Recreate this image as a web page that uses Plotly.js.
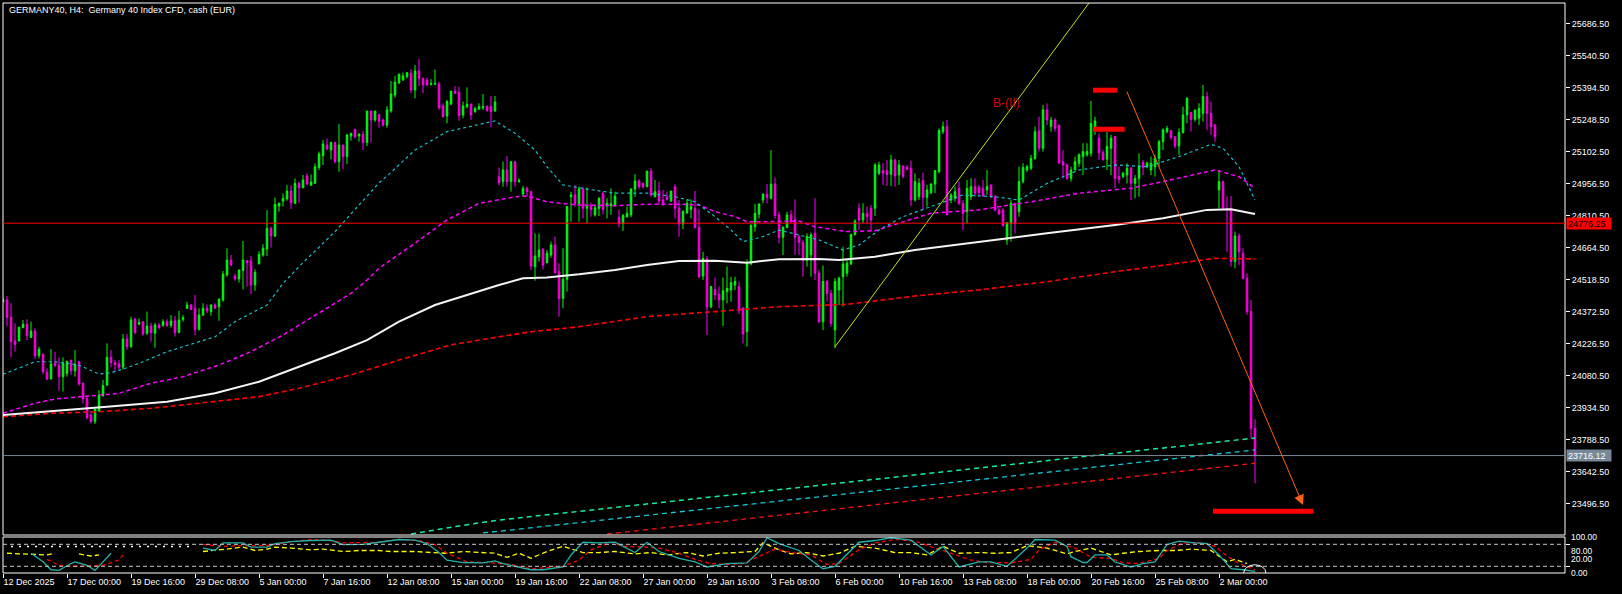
<!DOCTYPE html>
<html><head><meta charset="utf-8">
<script src="https://cdn.plot.ly/plotly-3.0.1.min.js"></script>
<style>html,body{margin:0;padding:0;background:#000;}#chart{width:1622px;height:594px;}</style>
</head><body><div id="chart"></div>
<script>
// ---------- DATA ----------
const chartTitle = "GERMANY40, H4:\u00a0 Germany 40 Index CFD, cash (EUR)";
const dateTickIdx = [0,16,32,48,64,80,96,112,128,144,160,176,192,208,224,240,256,272,288,304];
const dateTickText = ["12 Dec 2025","17 Dec 00:00","19 Dec 16:00","29 Dec 08:00","5 Jan 00:00","7 Jan 16:00","12 Jan 08:00","15 Jan 00:00","19 Jan 16:00","22 Jan 08:00","27 Jan 00:00","29 Jan 16:00","3 Feb 08:00","6 Feb 00:00","10 Feb 16:00","13 Feb 08:00","18 Feb 00:00","20 Feb 16:00","25 Feb 08:00","2 Mar 00:00"];
const priceTicks = [23496.5,23642.5,23788.5,23934.5,24080.5,24226.5,24372.5,24518.5,24664.5,24810.5,24956.5,25102.5,25248.5,25394.5,25540.5,25686.5];

const open = [24418,24426,24347,24239,24239,24300,24315,24255,24284,24172,
24179,24096,24065,24137,24129,24076,24091,24152,24103,24144,
24046,23977,23901,23871,23919,23989,24038,24164,24140,24134,
24119,24248,24213,24339,24315,24327,24274,24307,24274,24312,
24309,24327,24309,24331,24278,24338,24388,24403,24388,24292,
24357,24388,24373,24403,24395,24426,24540,24608,24535,24522,
24560,24605,24604,24494,24590,24631,24658,24753,24718,24855,
24877,24887,24923,24867,24958,24938,24992,24950,24958,25030,
25084,25133,25110,25144,25057,25133,25080,25174,25204,25174,
25182,25144,25288,25247,25270,25247,25224,25288,25361,25417,
25430,25445,25460,25384,25471,25437,25430,25410,25410,25411,
25312,25265,25320,25379,25373,25270,25308,25319,25285,25297,
25303,25308,25308,25288,24988,24966,25019,24966,25057,24966,
24909,24935,24920,24578,24623,24657,24596,24631,24677,24555,
24433,24520,24897,24905,24864,24932,24844,24855,24814,24844,
24912,24855,24856,24859,24803,24776,24806,24814,24932,24969,
24958,24943,25014,24897,24923,24882,24897,24877,24943,24844,
24773,24824,24839,24844,24757,24535,24613,24395,24474,24452,
24426,24464,24471,24494,24487,24388,24281,24590,24760,24818,
24882,24909,24890,24955,24814,24712,24757,24814,24794,24715,
24688,24608,24631,24730,24548,24327,24510,24456,24289,24472,
24532,24548,24590,24723,24844,24791,24821,24844,24844,25004,
25016,25015,24999,25065,24996,25037,25031,25027,24882,24897,
24970,24894,24916,24955,25011,25194,25217,24882,24890,24935,
24867,24829,24897,24943,24940,24935,24928,24951,24897,24837,
24837,24700,24776,24867,24829,24966,25019,25027,25072,25197,
25118,25293,25217,25247,25224,25057,25042,24981,25019,25050,
25080,25088,25095,25217,25164,25098,25068,25118,25171,24989,
24989,24996,25027,24958,24981,25053,25034,25019,25034,25072,
25148,25194,25199,25171,25129,25189,25270,25281,25250,25255,
25278,25354,25278,25224,24928,24966,24844,24844,24601,24718,
24639,24525,24373,23840];
const high = [24433,24444,24411,24319,24304,24335,24338,24327,24297,24213,
24182,24114,24202,24190,24164,24164,24147,24152,24198,24149,
24049,23992,23921,23928,24015,24061,24228,24198,24152,24152,
24271,24271,24350,24342,24342,24327,24373,24322,24322,24322,
24338,24338,24357,24353,24376,24357,24418,24408,24449,24388,
24411,24406,24406,24411,24433,24558,24662,24631,24547,24563,
24695,24608,24627,24566,24649,24681,24836,24760,24894,24870,
24912,24950,24950,24981,24966,24996,25004,24999,25049,25103,
25156,25163,25145,25148,25229,25133,25182,25189,25207,25186,
25197,25288,25288,25288,25277,25252,25311,25425,25448,25460,
25464,25466,25478,25498,25525,25440,25440,25433,25478,25422,
25323,25338,25379,25402,25399,25331,25396,25323,25308,25323,
25366,25315,25357,25357,25030,25057,25083,25057,25057,24981,
24946,24943,24923,24730,24730,24662,24654,24692,24715,24593,
24662,24852,24920,24950,24943,24943,24940,24871,24862,24894,
24920,24890,24935,24920,24839,24818,24852,24935,25000,24976,
24961,25014,25027,24973,24966,24928,24920,24923,24954,24882,
24836,24885,24885,24923,24839,24646,24627,24490,24528,24487,
24528,24578,24532,24532,24510,24395,24611,24768,24864,24867,
24912,24955,25110,24984,24829,24763,24829,24836,24885,24722,
24700,24730,24733,24890,24563,24583,24517,24472,24525,24532,
24669,24608,24730,24794,24867,24867,24852,24859,25050,25057,
25050,25065,25088,25068,25065,25042,25042,25062,25004,24981,
25007,24951,24958,25019,25209,25240,25247,24913,24943,24966,
24882,24973,24981,24981,24951,24973,25019,24951,24905,24844,
24844,24779,24882,24867,25034,25050,25042,25088,25217,25262,
25316,25323,25262,25255,25224,25110,25050,25034,25080,25095,
25141,25141,25334,25262,25186,25110,25194,25179,25174,25034,
25011,25050,25034,24996,25095,25065,25057,25080,25088,25156,
25209,25220,25199,25171,25209,25308,25351,25285,25293,25323,
25407,25376,25331,25229,25019,24970,24897,24900,24738,24730,
24662,24548,24426,23882];
const low = [24414,24307,24164,24190,24236,24297,24243,24254,24157,24160,
24087,24061,24064,24119,24012,24008,24076,24084,24076,24035,
23954,23881,23863,23860,23915,23985,24033,24119,24099,24109,
24109,24198,24208,24269,24312,24263,24266,24236,24208,24292,
24304,24304,24300,24259,24274,24327,24385,24380,24266,24286,
24353,24365,24354,24385,24331,24418,24532,24581,24514,24505,
24474,24487,24453,24468,24590,24623,24627,24665,24712,24829,
24852,24879,24841,24864,24870,24935,24950,24946,24955,25019,
25042,25110,25068,25049,25011,25023,25046,25153,25163,25148,
25110,25128,25144,25239,25212,25217,25212,25280,25349,25411,
25426,25437,25369,25346,25402,25369,25402,25404,25408,25293,
25258,25232,25315,25366,25244,25255,25300,25247,25280,25293,
25293,25285,25214,25285,24950,24943,24943,24920,24943,24961,
24897,24897,24563,24514,24601,24566,24593,24619,24547,24350,
24388,24464,24783,24852,24783,24798,24776,24806,24806,24809,
24817,24798,24814,24852,24756,24741,24801,24803,24897,24931,
24935,24940,24897,24894,24859,24855,24879,24874,24798,24715,
24748,24818,24798,24753,24525,24517,24266,24388,24426,24388,
24307,24411,24418,24471,24362,24228,24213,24585,24738,24798,
24867,24867,24885,24798,24684,24631,24753,24776,24631,24631,
24532,24578,24532,24517,24320,24289,24418,24304,24206,24403,
24396,24532,24586,24723,24745,24776,24776,24738,24809,24996,
24951,24946,24946,24943,24951,24981,25019,24855,24875,24882,
24840,24852,24908,24913,25004,25183,24814,24867,24875,24859,
24745,24776,24882,24897,24905,24897,24905,24890,24829,24814,
24764,24677,24692,24730,24806,24958,25011,25019,25065,25103,
25103,25224,25194,25194,25050,24981,24973,24966,25019,25034,
24996,25080,25080,25179,25065,25065,25019,24996,24935,24958,
24981,24958,24882,24890,24897,24996,25027,24996,24989,25034,
25110,25186,25159,25118,25088,25186,25232,25194,25240,25224,
25240,25202,25179,25148,24844,24840,24646,24578,24570,24586,
24520,24358,23795,23590];
const close = [24426,24347,24236,24223,24301,24315,24263,24284,24172,24201,
24099,24065,24134,24128,24076,24137,24147,24103,24132,24043,
23974,23889,23871,23928,23992,24035,24164,24140,24131,24119,
24248,24213,24335,24278,24324,24271,24307,24277,24312,24300,
24327,24309,24330,24278,24335,24345,24403,24383,24292,24357,
24388,24377,24403,24388,24430,24544,24608,24585,24523,24563,
24608,24596,24494,24552,24634,24662,24753,24718,24862,24867,
24890,24923,24870,24958,24938,24973,24955,24964,25034,25092,
25138,25115,25145,25057,25133,25080,25179,25186,25171,25183,
25144,25288,25247,25288,25242,25224,25293,25366,25419,25455,
25448,25463,25384,25471,25437,25407,25407,25414,25413,25303,
25262,25331,25379,25369,25267,25311,25319,25270,25300,25308,
25308,25290,25285,25329,24961,25019,24966,25057,24966,24970,
24935,24920,24581,24627,24654,24585,24639,24677,24550,24433,
24520,24852,24905,24867,24932,24844,24852,24839,24847,24890,
24839,24867,24864,24900,24776,24811,24821,24932,24969,24943,
24943,25014,24905,24920,24877,24867,24885,24923,24844,24773,
24829,24867,24852,24756,24532,24616,24395,24487,24449,24426,
24468,24479,24505,24510,24377,24271,24593,24768,24821,24864,
24909,24894,24955,24811,24712,24757,24814,24783,24712,24689,
24608,24715,24723,24548,24327,24510,24456,24320,24510,24525,
24590,24593,24723,24786,24791,24821,24806,24791,25042,25042,
25004,24999,25065,24992,25042,24989,25022,24882,24966,24958,
24894,24928,24955,25016,25199,25217,24814,24905,24920,24867,
24821,24935,24943,24913,24916,24900,24943,24897,24837,24818,
24764,24779,24867,24776,24966,25030,25034,25072,25194,25118,
25293,25247,25247,25209,25050,25042,24981,25019,25057,25088,
25103,25103,25232,25243,25098,25065,25126,25164,24981,24977,
25004,25027,24958,24981,25037,25031,25050,25050,25072,25148,
25202,25209,25168,25129,25189,25270,25346,25250,25293,25300,
25354,25278,25217,25171,24966,24844,24840,24601,24718,24646,
24525,24373,23840,23716.12];

// moving averages (bar index, price)
const maCyanIdx = [0,8,13,19,24,27,31,35,41,47,53,58,62,66,70,74,83,91,94,97,103,111,116,123,128,133,136,140,146,153,161,168,173,178,182,185,190,194,204,210,214,219,225,232,240,248,254,261,269,278,286,294,302,305,309,313];
const maCyanVal = [24087,24144,24144,24129,24088,24094,24117,24144,24190,24224,24258,24327,24365,24403,24502,24578,24738,24897,24960,25008,25110,25194,25214,25243,25187,25110,25034,24951,24932,24913,24913,24897,24874,24806,24745,24692,24715,24745,24700,24654,24677,24745,24806,24852,24905,24897,24882,24958,25019,25042,25034,25080,25136,25118,25034,24882];
const maMagentaIdx = [0,8,13,20,29,37,45,54,62,70,79,87,91,94,103,111,119,128,131,136,144,153,161,169,174,178,183,186,190,199,203,211,218,224,232,244,257,269,282,290,303,309,313];
const maMagentaVal = [23909,23955,23974,23985,24000,24046,24076,24129,24190,24266,24365,24456,24517,24571,24685,24791,24867,24897,24900,24874,24859,24856,24863,24863,24859,24829,24806,24783,24783,24786,24760,24738,24742,24776,24822,24837,24874,24913,24936,24966,25019,24988,24936];
const maWhiteIdx = [0,8,16,26,41,53,64,74,83,91,99,108,116,124,130,136,144,153,161,169,178,186,194,204,209,218,228,244,261,278,290,301,307,313];
const maWhiteVal = [23901,23912,23924,23939,23962,24000,24053,24122,24183,24243,24327,24403,24449,24494,24525,24529,24543,24563,24586,24604,24605,24596,24612,24613,24608,24623,24654,24692,24730,24768,24799,24837,24840,24818];
const maRedIdx = [0,12,24,37,49,64,74,87,99,112,124,132,144,161,178,194,211,228,244,261,278,294,303,313];
const maRedVal = [23893,23909,23916,23932,23955,23985,24023,24084,24152,24221,24258,24281,24304,24350,24373,24395,24406,24444,24472,24509,24555,24593,24616,24613];
const longGreenIdx = [102,114,124,259,313];
const longGreenVal = [23358,23395,23422,23691,23796];
const longCyanIdx = [120,259,313];
const longCyanVal = [23363,23637,23742];
const longRedIdx = [151,259,313];
const longRedVal = [23358,23574,23681];

// horizontal levels
const levelPrice = 24776.25;
const bidPrice = 23716.12;

// drawn objects
const trendIdx = [207.9, 272];
const trendVal = [24210, 25793];
const arrowFrom = {idx:280.8, price:25384};
const arrowTo = {idx:325, price:23491};
const markBarX0 = [272.5, 272.5, 302.5];
const markBarX1 = [278.5, 280.4, 327.5];
const markBarP = [25383, 25205, 23462];
const waveLabelText = "B-(II)";
const waveLabelIdx = 247;
const waveLabelPrice = 25325;

// oscillator (0..100)
const oscLevels = [80, 20];
const oscLabelTop = ["100.00", "80.00"];
const oscLabelBottom = ["20.00", "0.00"];
const tealIdx = [7,10,12,14,17,18,21,23,25,27,null,50,53,55,60,62,66,68,72,77,82,85,90,94,99,103,106,109,111,115,120,123,125,128,132,135,140,142,145,149,153,158,161,164,169,173,176,181,186,189,191,194,199,202,205,208,212,214,218,222,227,232,235,239,244,247,251,256,258,263,266,267,270,271,273,276,278,282,285,288,291,294,298,301,304,307,310,313];
const tealVal = [55.6,32.2,10.6,8.8,27.5,32.2,22.8,8.8,32.2,55.6,null,69.7,63.1,83.8,83.8,72.5,72.5,81.9,87.5,90.3,91.3,79.1,80,85.6,93.1,91.3,81.9,57.5,36.9,30.3,29.4,35,27.5,20,10.6,10.6,18.1,51,85.6,83.8,85.6,57.5,85.6,60.3,41.6,32.2,18.1,27.5,29.4,60.3,97.8,81.9,63.1,36.9,13.4,20,65,85.6,90.3,97.8,91.3,51,74.4,18.1,32.2,32.2,20,69.7,93.1,91.3,74.4,46.3,30.3,30.3,51,51,32.2,18.1,27.5,32.2,79.1,88.4,83.8,81.9,51,13.4,10.6,5.9];
const sigIdx = [11,14,19,25,29,30,null,50,55,60,65,68,72,77,81,85,90,94,99,104,108,111,114,116,122,127,132,140,144,147,152,155,160,164,169,173,177,181,185,190,193,197,202,206,209,214,218,223,228,233,238,242,246,252,257,259,263,268,272,277,280,284,289,291,295,300,303,306,309,313];
const sigVal = [38.8,22.8,20,22.8,36.9,51,null,79.1,74.4,76.3,76.3,79.1,86.6,93.1,91.3,83.8,85.6,85.6,93.1,90.3,79.1,55.6,41.6,32.2,29.4,24.7,13.4,20,36.9,65,85.6,74.4,72.5,69.7,55.6,38.8,27.5,25.6,27.5,51,66.9,57.5,51,24.7,27.5,65,83.8,93.1,88.4,69.7,51,36.9,30.3,29.4,38.8,65,85.6,69.7,44.4,41.6,29.4,27.5,41.6,63.1,83.8,83.8,74.4,48.1,27.5,10.6];
const yelIdx = [1,5,8,11,13,null,19,22,24,null,50,53,56,60,63,66,68,72,77,80,85,89,94,97,103,107,111,115,120,123,126,129,132,136,140,145,149,153,158,162,166,171,175,179,183,188,190,194,197,201,205,209,213,218,223,227,231,235,239,244,248,252,256,261,266,268,272,277,280,284,289,293,297,302,306,308,311];
const yelVal = [55.6,53.8,52.8,51,55.6,null,53.8,48.1,51,null,60.3,63.1,66.9,72.5,63.1,66.9,72.5,69.7,65,66.9,60.3,63.1,63.1,60.3,60.3,57.5,55.6,60.3,57.5,55.6,44.4,55.6,42,60.3,74.4,57.5,57.5,60.3,53.8,57.5,51,57.5,48.1,55.6,57.5,60.3,83.8,65,53.8,57.5,48.1,55.6,74.4,69.7,57.5,57.5,51,74.4,55.6,57.5,55.6,57.5,76.3,69.7,53.8,60.3,69.7,51,55.6,60.3,63.1,63.1,66.9,63.1,32.2,38.8,27.5];
const dotIdx = [2,47];
const dotVal = [74,74];
const markCircle = {idx0:310.2, idx1:315.7, v0:-18, v1:24};

// ---------- CHART ----------
const idx = open.map((_, i) => i);
const FONT = "'Liberation Sans', Arial, sans-serif";

function line(x, y, color, width, dash, yaxis) {
  return {type:'scatter', mode:'lines', x:x, y:y, xaxis:'x', yaxis:yaxis||'y',
    line:{color:color, width:width, dash:dash||'solid'}, hoverinfo:'skip', connectgaps:false};
}
function bar(k) {
  return {type:'scatter', mode:'lines', x:[markBarX0[k], markBarX1[k]], y:[markBarP[k], markBarP[k]],
    xaxis:'x', yaxis:'y', line:{color:'#ff0000', width:5}, hoverinfo:'skip'};
}

const traces = [
  {type:'candlestick', x:idx, open:open, high:high, low:low, close:close, xaxis:'x', yaxis:'y',
   increasing:{line:{color:'#00ff00', width:1}, fillcolor:'#18d868'},
   decreasing:{line:{color:'#ff00ff', width:1}, fillcolor:'#ff0a50'},
   whiskerwidth:0, hoverinfo:'skip'},
  line(longGreenIdx, longGreenVal, '#10f0a0', 1.5, '5px,4px'),
  line(longCyanIdx, longCyanVal, '#10c8d8', 1.3, '5px,4px'),
  line(longRedIdx, longRedVal, '#ff1010', 1.3, '5px,4px'),
  line(maRedIdx, maRedVal, '#ff0000', 1.6, '5px,3px'),
  line(maWhiteIdx, maWhiteVal, '#f4f4f4', 2),
  line(maMagentaIdx, maMagentaVal, '#ff00ff', 1.5, '4px,3px'),
  line(maCyanIdx, maCyanVal, '#18c0cc', 1.2, '3px,3px'),
  line(trendIdx, trendVal, '#b4e61e', 1),
  bar(0), bar(1), bar(2),
  line(dotIdx, dotVal, '#ffffff', 1.5, '2px,6px', 'y2'),
  line(yelIdx, yelVal, '#ffff00', 1.3, '5px,3px', 'y2'),
  line(sigIdx, sigVal, '#ff0000', 1.3, '4px,3px', 'y2'),
  line(tealIdx, tealVal, '#20b2aa', 1.3, 'solid', 'y2')
];

const MAIN_BOTTOM = 38/570;
const OSC_TOP = 36/570;

function oscLabel(text, v, anchor, shift) {
  return {xref:'paper', yref:'y2', x:1, xshift:4, y:v, yshift:shift, xanchor:'left', yanchor:anchor,
    text:text, showarrow:false, font:{family:FONT, size:8.5, color:'#ffffff'}};
}

const layout = {
  width:1622, height:594,
  paper_bgcolor:'#000000', plot_bgcolor:'#000000',
  margin:{l:3, r:57, t:3, b:21, pad:0},
  showlegend:false, hovermode:false, boxgap:0.45,
  font:{family:FONT, size:9, color:'#ffffff'},
  xaxis:{domain:[0,1], anchor:'y2', range:[0, 390.5], type:'linear',
    tickvals:dateTickIdx, ticktext:dateTickText, ticks:'outside', ticklen:4, tickwidth:1, tickcolor:'#ffffff',
    ticklabelposition:'outside right', tickfont:{family:FONT, size:9, color:'#ffffff'},
    showgrid:false, zeroline:false, showline:false, rangeslider:{visible:false}, fixedrange:true},
  yaxis:{domain:[MAIN_BOTTOM,1], anchor:'x', side:'right', range:[23353.65, 25780.9],
    tickvals:priceTicks, ticktext:priceTicks.map(v => v.toFixed(2)), ticks:'outside', ticklen:4, tickwidth:1, tickcolor:'#ffffff',
    tickfont:{family:FONT, size:9, color:'#ffffff'}, showgrid:false, zeroline:false, showline:false, fixedrange:true},
  yaxis2:{domain:[0,OSC_TOP], anchor:'x', side:'right', range:[1.73, 99.9],
    tickvals:oscLevels, ticks:'outside', ticklen:4, tickwidth:1, tickcolor:'#ffffff', showticklabels:false,
    showgrid:false, zeroline:false, showline:false, fixedrange:true},
  shapes:[
    {type:'rect', xref:'paper', yref:'paper', x0:0, x1:1, y0:MAIN_BOTTOM, y1:1, line:{color:'#ffffff', width:1}},
    {type:'rect', xref:'paper', yref:'paper', x0:0, x1:1, y0:0, y1:OSC_TOP, line:{color:'#ffffff', width:1}},
    {type:'line', xref:'paper', yref:'y', x0:0, x1:1, y0:levelPrice, y1:levelPrice, line:{color:'#ff0000', width:1}},
    {type:'line', xref:'paper', yref:'y', x0:0, x1:1, y0:bidPrice, y1:bidPrice, line:{color:'#778899', width:1}},
    {type:'line', xref:'paper', yref:'y2', x0:0, x1:1, y0:oscLevels[0], y1:oscLevels[0], line:{color:'#c8c8c8', width:1, dash:'4px,3px'}},
    {type:'line', xref:'paper', yref:'y2', x0:0, x1:1, y0:oscLevels[1], y1:oscLevels[1], line:{color:'#c8c8c8', width:1, dash:'4px,3px'}},
    {type:'circle', xref:'x', yref:'y2', x0:markCircle.idx0, x1:markCircle.idx1, y0:markCircle.v0, y1:markCircle.v1, line:{color:'#ffffff', width:1}}
  ],
  annotations:[
    {xref:'paper', yref:'paper', x:0.0024, y:0.9877, xanchor:'left', yanchor:'middle', text:chartTitle, showarrow:false,
     font:{family:FONT, size:9, color:'#ffffff'}},
    {xref:'x', yref:'y', x:waveLabelIdx, y:waveLabelPrice, xanchor:'left', yanchor:'middle', text:waveLabelText, showarrow:false,
     font:{family:FONT, size:12, color:'#d80000'}},
    {xref:'x', yref:'y', axref:'x', ayref:'y', x:arrowTo.idx, y:arrowTo.price, ax:arrowFrom.idx, ay:arrowFrom.price,
     text:'', showarrow:true, arrowhead:2, arrowsize:2, arrowwidth:1, arrowcolor:'#ff6010', standoff:0, startstandoff:0},
    {xref:'paper', yref:'y', x:1, xshift:1, y:levelPrice, xanchor:'left', yanchor:'middle', text:levelPrice.toFixed(2), showarrow:false,
     bgcolor:'#ff0000', width:42, height:9, borderpad:1, align:'left', font:{family:FONT, size:9, color:'#000000'}},
    {xref:'paper', yref:'y', x:1, xshift:1, y:bidPrice, xanchor:'left', yanchor:'middle', text:bidPrice.toFixed(2), showarrow:false,
     bgcolor:'#778899', width:42, height:9, borderpad:1, align:'left', font:{family:FONT, size:9, color:'#ffffff'}},
    oscLabel(oscLabelTop[0], oscLevels[0], 'bottom', 0),
    oscLabel(oscLabelTop[1], oscLevels[0], 'top', 0),
    oscLabel(oscLabelBottom[0], oscLevels[1], 'bottom', 0),
    oscLabel(oscLabelBottom[1], oscLevels[1], 'top', 0)
  ]
};

Plotly.newPlot('chart', traces, layout, {staticPlot:true, displayModeBar:false});
</script>
</body></html>
